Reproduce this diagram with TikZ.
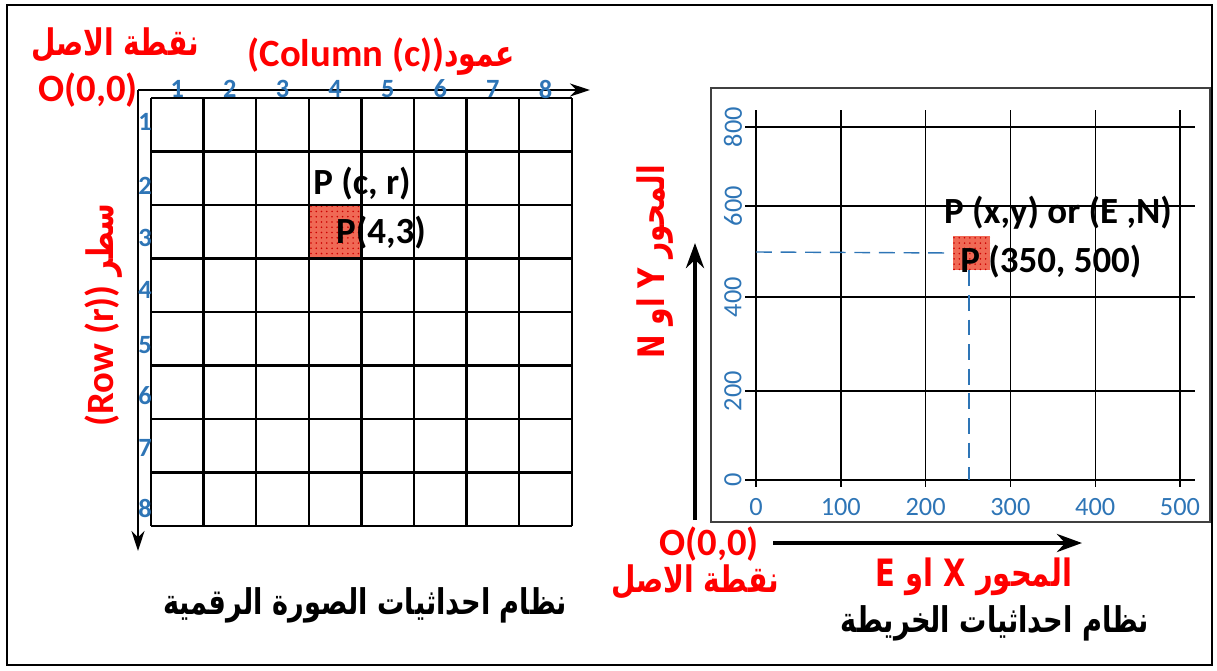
\documentclass[tikz,border=0pt]{standalone}
\usepackage{graphicx}
\usepackage{fontspec}
\setmainfont{Carlito}
\newfontfamily\arabicfont[Script=Arabic]{DejaVu Sans}
\TeXXeTstate=1
\usetikzlibrary{arrows.meta,positioning,patterns}
\definecolor{labelred}{RGB}{255,0,0}
\definecolor{tickblue}{RGB}{46,117,182}
\definecolor{pixelred}{RGB}{240,105,85}
\newcommand{\arab}[2][16]{\scalebox{1}[1.3]{\arabicfont\bfseries\fontsize{#1}{#1}\selectfont\beginR #2\endR}}

\begin{document}
\begin{tikzpicture}[
  x=0.02cm, y=-0.02cm,
  redlabel/.style={text=labelred, font=\fontsize{22}{24}\selectfont\bfseries, inner sep=0pt},
  blacklabel/.style={text=black, font=\fontsize{21}{23}\selectfont\bfseries, inner sep=0pt},
  caption/.style={text=black, inner sep=0pt},
  gridno/.style={text=tickblue, font=\fontsize{15}{17}\selectfont\bfseries, inner sep=0pt},
  tickno/.style={text=tickblue, font=\fontsize{15}{17}\selectfont, inner sep=0pt},
  imggrid/.style={line width=1.3pt},
  mapgrid/.style={line width=0.8pt},
  thinaxis/.style={-{Stealth[length=4mm,width=2.6mm]}, line width=1.1pt},
  thickaxis/.style={-{Stealth[length=5mm,width=3.6mm]}, line width=2.8pt},
  guide/.style={tickblue, dashed, dash pattern=on 9pt off 5pt, line width=0.8pt},
  pixel/.style={fill=pixelred, postaction={pattern=dots, pattern color=red!80!black}},
]
  \useasboundingbox (0,0) rectangle (1217,670);
  \draw[line width=0.9pt] (7,5) rectangle (1212,665);

  % Digital image grid
  \fill[pixel] (308.8,205) rectangle (361.4,258.5);
  \foreach \i in {0,...,8} {
    \draw[imggrid] ({151+52.6*\i},98) -- ({151+52.6*\i},526);
    \draw[imggrid] (151,{98+53.5*\i}) -- (572,{98+53.5*\i});
  }
  \coordinate (imgorigin) at (138,90);
  \coordinate (colend) at (590,90);
  \coordinate (rowend) at (138,551);
  \draw[thinaxis] (imgorigin) -- (colend);
  \draw[thinaxis] (imgorigin) -- (rowend);
  \foreach \c in {1,...,8}
    \node[gridno] (col\c) at ({151+52.6*(\c-0.5)},89) {\c};
  \foreach \r/\y in {1/122,2/186,3/238,4/290,5/345,6/396,7/448,8/508}
    \node[gridno] (row\r) at (145,\y) {\r};

  \node[redlabel] (imgorigintxt) at (88,90) {O(0,0)};
  \node[redlabel] (imgoriginar) at (115,45) {\arab{نقطة الاصل}};
  \node[redlabel] (collabel) at (381,57) {(Column (c))\arab{عمود}};
  \node[redlabel, rotate=90] (rowlabel) at (104,315) {(Row (r)) \arab{سطر}};
  \node[blacklabel] (pcr) at (362,184) {P (c, r)};
  \node[blacklabel] (p43) at (381,233) {P(4,3)};
  \node[caption] (imgcaption) at (365,605) {\arab[15.5]{نظام احداثيات الصورة الرقمية}};

  % Map grid
  \draw[line width=0.9pt, black!75] (711,88) rectangle (1210,522);
  \foreach \i/\v in {0/0,1/100,2/200,3/300,4/400,5/500} {
    \draw[mapgrid] ({756+84.8*\i},110) -- ({756+84.8*\i},487);
    \node[tickno] (xt\i) at ({756+84.8*\i},507) {\v};
  }
  \foreach \y/\v in {127/800,206/600,297/400,391/200,480/0} {
    \draw[mapgrid] (745,\y) -- (1195,\y);
    \node[tickno, rotate=90] (yt\v) at (733,\y) {\v};
  }
  \node[pixel, minimum width=0.74cm, minimum height=0.68cm, inner sep=0pt] (mappoint) at (971.5,253) {};
  \coordinate (ystart) at (756,252);
  \coordinate (xfoot) at (969,480);
  \draw[guide] (ystart) -- (mappoint.west);
  \draw[guide] (mappoint.south -| xfoot) -- (xfoot);
  \node[blacklabel, anchor=west] (pxy) at (960,262) {P (350, 500)};
  \node[blacklabel] (pxyen) at (1058,213) {P (x,y) or (E ,N)};

  \coordinate (maporigin) at (695,520);
  \coordinate (northend) at (695,243);
  \coordinate (eaststart) at (773,543);
  \coordinate (eastend) at (1082,543);
  \draw[thickaxis] (maporigin) -- (northend);
  \draw[thickaxis] (eaststart) -- (eastend);
  \node[redlabel] (maporigintxt) at (709,544) {O(0,0)};
  \node[redlabel] (maporiginar) at (695,582) {\arab{نقطة الاصل}};
  \node[redlabel] (eastlabel) at (974,577) {\arab[16.5]{المحور X او E}};
  \node[redlabel, rotate=90] (northlabel) at (655,262) {\arab{المحور Y او N}};
  \node[caption] (mapcaption) at (995,623) {\arab[15.5]{نظام احداثيات الخريطة}};
\end{tikzpicture}
\end{document}
